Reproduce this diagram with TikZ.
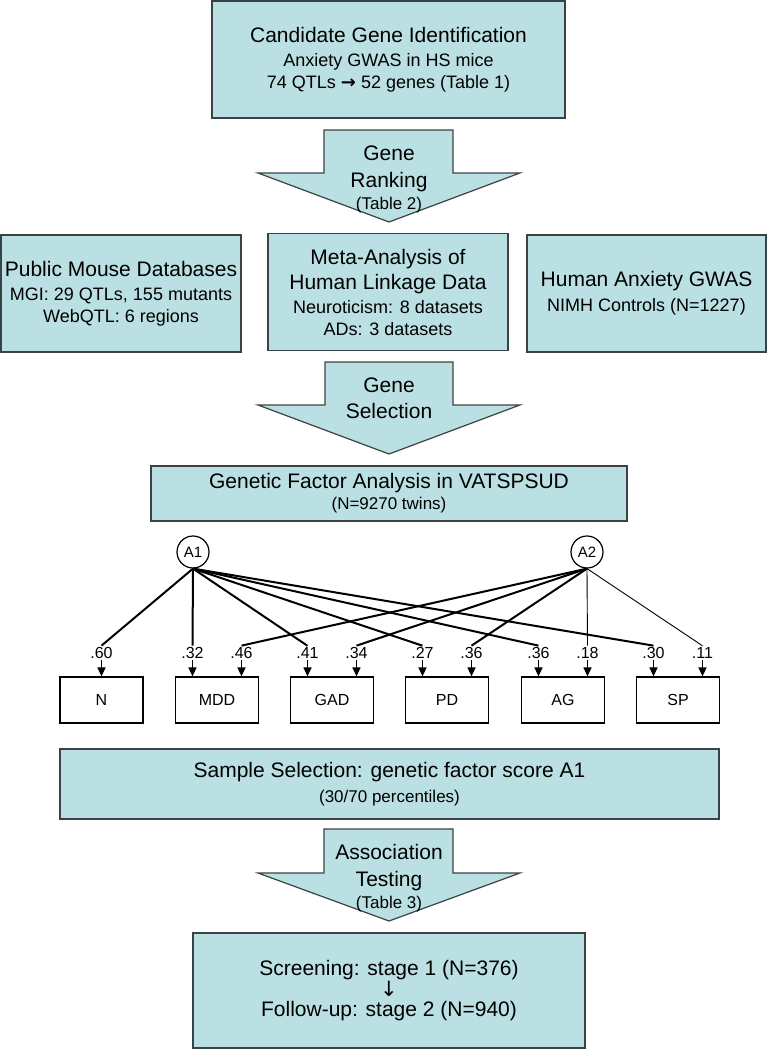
\documentclass[tikz,border=0pt]{standalone}
\usepackage{fontspec}
\setmainfont{Liberation Sans}
\newfontfamily\arrowfont{DejaVu Sans}
\usetikzlibrary{arrows.meta}

\definecolor{boxfill}{RGB}{187,224,227}
\definecolor{boxline}{RGB}{58,66,68}
\newcommand{\headfont}{\fontsize{21}{25}\selectfont}
\newcommand{\subfont}{\fontsize{18}{22}\selectfont}
\newcommand{\notefont}{\fontsize{17}{20}\selectfont}

\begin{document}
\begin{tikzpicture}[yscale=-1
  ,pbox/.style={draw=boxline,fill=boxfill,line width=1.5pt,align=center,inner sep=0pt,font=\subfont}
  ,pshape/.style={draw=boxline,fill=boxfill,line width=1.2pt}
  ,ptext/.style={align=center,inner sep=0pt,font=\headfont}
  ,pfac/.style={draw=black,circle,line width=1.2pt,minimum size=32pt,inner sep=0pt,font=\fontsize{15}{17}\selectfont}
  ,pvar/.style={draw=black,line width=1.2pt,minimum width=83pt,minimum height=46pt,inner sep=0pt,font=\fontsize{16}{18}\selectfont}
  ,plab/.style={inner sep=1.5pt,font=\fontsize{16}{18}\selectfont}
  ,pload/.style={color=black,line width=2pt}
  ,pthin/.style={color=black,line width=0.9pt}
  ,ptip/.style={color=black,line width=1.5pt,-{Triangle[length=9pt,width=8pt]}}
]
\useasboundingbox (0pt,0pt) rectangle (768pt,1050pt);

% --- Candidate genes ---
\node[pbox,minimum width=353pt,minimum height=117pt] (cand) at (388.5pt,59.5pt)
  {{\headfont Candidate Gene Identification}\\[2pt] Anxiety GWAS in HS mice\\ 74 QTLs {\arrowfont\bfseries →} 52 genes (Table 1)};

\draw[pshape] (324pt,130pt) -- (453pt,130pt) -- (453pt,173pt) -- (520pt,173pt) -- (389pt,222pt) -- (258pt,173pt) -- (324pt,173pt) -- cycle;
\node[ptext] (rank) at (389pt,179pt) {Gene\\[2pt] Ranking\\[-3pt] {\notefont (Table 2)}};

% --- Three sources ---
\node[pbox,minimum width=240pt,minimum height=117pt] (mouse) at (121pt,293.5pt)
  {{\headfont Public Mouse Databases}\\[2pt] MGI: 29 QTLs, 155 mutants\\ WebQTL: 6 regions};
\node[pbox,minimum width=240pt,minimum height=117pt] (meta) at (388pt,292pt)
  {{\headfont Meta-Analysis of}\\[3pt] {\headfont Human Linkage Data}\\[2pt] Neuroticism: 8 datasets\\ ADs: 3 datasets};
\node[pbox,minimum width=239pt,minimum height=117pt] (gwas) at (646.5pt,293.5pt)
  {{\headfont Human Anxiety GWAS}\\[3pt] NIMH Controls (N=1227)};

\draw[pshape] (325pt,362pt) -- (453pt,362pt) -- (453pt,405pt) -- (520pt,405pt) -- (389pt,454pt) -- (258pt,405pt) -- (325pt,405pt) -- cycle;
\node[ptext] (select) at (389pt,398pt) {Gene\\[1pt] Selection};

% --- Factor analysis ---
\node[pbox,minimum width=476pt,minimum height=55pt] (factor) at (389pt,493.5pt)
  {{\headfont Genetic Factor Analysis in VATSPSUD}\\[-1pt] {\notefont (N=9270 twins)}};

\node[pfac] (A1) at (193pt,552pt) {A1};
\node[pfac] (A2) at (587pt,552pt) {A2};

\node[pvar] (N) at (101.5pt,700pt) {N};
\node[pvar] (MDD) at (217pt,700pt) {MDD};
\node[pvar] (GAD) at (332pt,700pt) {GAD};
\node[pvar] (PD) at (447pt,700pt) {PD};
\node[pvar] (AG) at (563pt,700pt) {AG};
\node[pvar] (SP) at (678pt,700pt) {SP};

\node[plab] (lN) at (101.5pt,653pt) {.60};
\node[plab] (lMDDa) at (192.5pt,653pt) {.32};
\node[plab] (lMDDb) at (241.5pt,653pt) {.46};
\node[plab] (lGADa) at (307.5pt,653pt) {.41};
\node[plab] (lGADb) at (356.5pt,653pt) {.34};
\node[plab] (lPDa) at (422.5pt,653pt) {.27};
\node[plab] (lPDb) at (471.5pt,653pt) {.36};
\node[plab] (lAGa) at (538.5pt,653pt) {.36};
\node[plab] (lAGb) at (587.5pt,653pt) {.18};
\node[plab] (lSPa) at (653.5pt,653pt) {.30};
\node[plab] (lSPb) at (702.5pt,653pt) {.11};

% loadings of A1
\draw[pload] (A1.south) -- (lN.north);
\draw[pload] (A1.south) -- (lMDDa.north);
\draw[pload] (A1.south) -- (lGADa.north);
\draw[pload] (A1.south) -- (lPDa.north);
\draw[pload] (A1.south) -- (lAGa.north);
\draw[pload] (A1.south) -- (lSPa.north);

% loadings of A2
\draw[pload] (A2.south) -- (lMDDb.north);
\draw[pload] (A2.south) -- (lGADb.north);
\draw[pload] (A2.south) -- (lPDb.north);
\draw[pthin] (A2.south) -- (lAGb.north);
\draw[pthin] (A2.south) -- (lSPb.north);

% short arrows into the boxes
\draw[ptip] (lN.south) -- (lN.south |- N.north);
\draw[ptip] (lMDDa.south) -- (lMDDa.south |- MDD.north);
\draw[ptip] (lMDDb.south) -- (lMDDb.south |- MDD.north);
\draw[ptip] (lGADa.south) -- (lGADa.south |- GAD.north);
\draw[ptip] (lGADb.south) -- (lGADb.south |- GAD.north);
\draw[ptip] (lPDa.south) -- (lPDa.south |- PD.north);
\draw[ptip] (lPDb.south) -- (lPDb.south |- PD.north);
\draw[ptip] (lAGa.south) -- (lAGa.south |- AG.north);
\draw[ptip] (lAGb.south) -- (lAGb.south |- AG.north);
\draw[ptip] (lSPa.south) -- (lSPa.south |- SP.north);
\draw[ptip] (lSPb.south) -- (lSPb.south |- SP.north);

% --- Sample selection and testing ---
\node[pbox,minimum width=659pt,minimum height=70pt] (sample) at (389.5pt,784pt)
  {{\headfont Sample Selection: genetic factor score A1}\\[3pt] {\notefont (30/70 percentiles)}};

\draw[pshape] (324pt,829pt) -- (453pt,829pt) -- (453pt,873pt) -- (520pt,873pt) -- (389pt,921pt) -- (258pt,873pt) -- (324pt,873pt) -- cycle;
\node[ptext] (assoc) at (389pt,878pt) {Association\\[2pt] Testing\\[-3pt] {\notefont (Table 3)}};

\node[pbox,minimum width=392pt,minimum height=115pt,font=\headfont] (stage) at (389pt,990.5pt)
  {Screening: stage 1 (N=376)\\[-4pt] {\arrowfont ↓}\\[-5pt] Follow-up: stage 2 (N=940)};

\end{tikzpicture}
\end{document}
